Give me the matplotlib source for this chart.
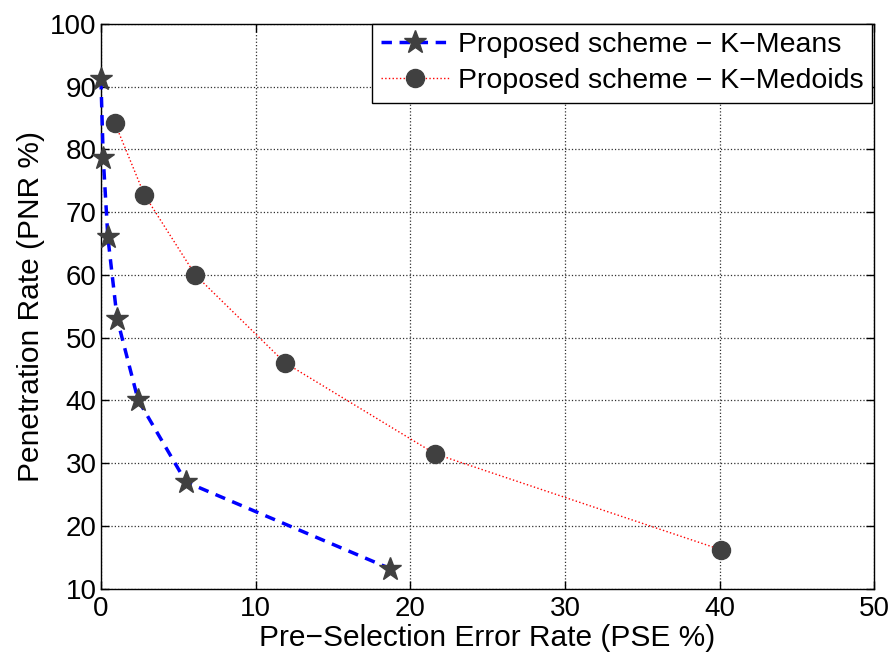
import matplotlib
matplotlib.use("Agg")
import matplotlib.pyplot as plt

plt.rcParams['font.family'] = ['Liberation Sans', 'DejaVu Sans']

kmeans_x = [0.0, 0.15, 0.45, 1.05, 2.4, 5.5, 18.7]
kmeans_y = [91.2, 78.6, 66.0, 53.0, 40.1, 27.0, 13.2]
kmedoids_x = [0.9, 2.8, 6.1, 11.9, 21.6, 40.1]
kmedoids_y = [84.2, 72.8, 60.0, 46.0, 31.5, 16.2]
labels = ['Proposed scheme \u2212 K\u2212Means', 'Proposed scheme \u2212 K\u2212Medoids']

fig = plt.figure(figsize=(8.93, 6.6), dpi=100)
ax = fig.add_axes([0.113, 0.108, 0.866, 0.856])

ax.plot(kmeans_x, kmeans_y, linestyle='--', color='#0000ff', linewidth=2.5,
        dashes=(3, 2.2), marker='*', markersize=17, markerfacecolor='#404040',
        markeredgecolor='#404040', label=labels[0], clip_on=False, zorder=3)
ax.plot(kmedoids_x, kmedoids_y, linestyle=':', color='#ff0000', linewidth=1.0,
        marker='o', markersize=13, markerfacecolor='#404040',
        markeredgecolor='#404040', label=labels[1], clip_on=False, zorder=3)

ax.set_xlim(0, 50)
ax.set_ylim(10, 100)
ax.set_xticks(range(0, 51, 10))
ax.set_yticks(range(10, 101, 10))
ax.grid(True, linestyle=':', color='#303030', linewidth=0.9)
ax.tick_params(direction='in', labelsize=20, top=True, right=True, length=6, width=1)
ax.tick_params(axis='x', pad=5)
ax.tick_params(axis='y', pad=3)
for s in ax.spines.values():
    s.set_linewidth(1.0)
ax.set_xlabel('Pre\u2212Selection Error Rate (PSE %)', fontsize=21.5, labelpad=1.5)
ax.set_ylabel('Penetration Rate (PNR %)', fontsize=21.5, labelpad=4)

leg = ax.legend(loc='upper right', fontsize=20.5, fancybox=False, framealpha=1,
                edgecolor='black', borderaxespad=0.0, handlelength=2.4,
                handletextpad=0.3, borderpad=0.3, labelspacing=0.35,
                bbox_to_anchor=(0.997, 1.0))
leg.get_frame().set_linewidth(1.0)

fig.savefig('out.png', dpi=100)
